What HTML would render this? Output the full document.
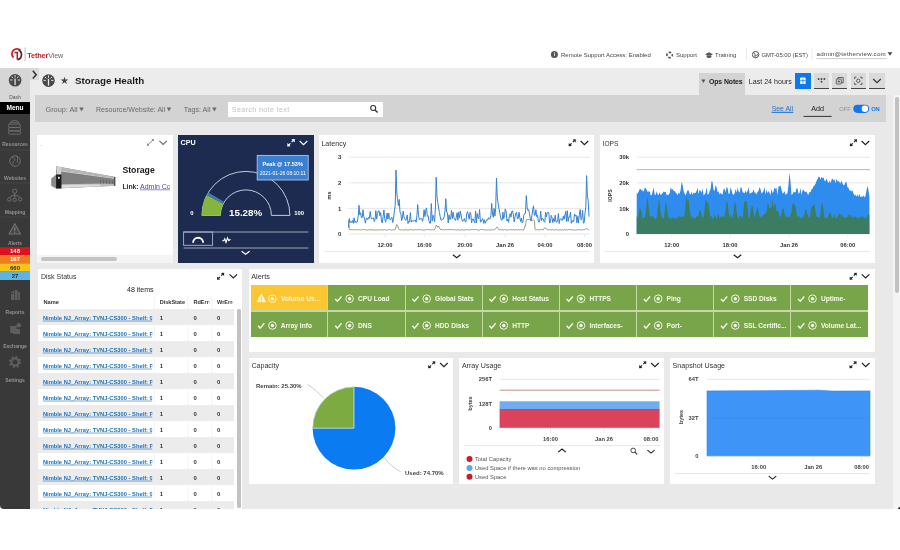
<!DOCTYPE html>
<html lang="en">
<head>
<meta charset="utf-8">
<title>Storage Health</title>
<style>
*{box-sizing:border-box;margin:0;padding:0}
html,body{width:900px;height:550px;overflow:hidden;background:#fff}
body{font-family:"Liberation Sans",sans-serif;color:#222;position:relative;font-size:7px;line-height:1}
.abs{position:absolute}
.t{position:absolute;white-space:nowrap;line-height:1}
#app{position:absolute;left:0;top:68px;width:900px;height:441px;background:#e9e9e9;border-bottom-left-radius:4px;overflow:hidden}
.w{position:absolute;background:#fff}
.wt{position:absolute;left:3px;top:4px;font-size:7.5px;color:#333;white-space:nowrap;letter-spacing:-0.1px}
svg{position:absolute;left:0;top:0;overflow:visible}
svg text{font-family:"Liberation Sans",sans-serif}
</style>
</head>
<body>
<!-- top header -->
<div id="hdr">
<svg width="900" height="68" viewBox="0 0 900 68">
  <!-- logo -->
  <path d="M13.4 57.6 A5 5 0 0 1 20.6 50.4" fill="none" stroke="#c5202d" stroke-width="1.8"/>
  <path d="M18.6 50.2 A4.6 4.9 0 0 1 17.4 59.6" fill="none" stroke="#651a22" stroke-width="1.7"/>
  <path d="M17.3 52 V59.6 M14.4 52.6 H18" stroke="#9c1f2b" stroke-width="1.5" fill="none"/>
  <line x1="25.1" y1="47.4" x2="25.1" y2="61.4" stroke="#a9afbd" stroke-width="0.8"/>
  <text x="27.2" y="57.8" font-size="7.3" font-weight="bold" fill="#bf202c" letter-spacing="-0.12">Tether<tspan fill="#6a6a6a" font-weight="normal" letter-spacing="-0.2">View</tspan></text>
  <!-- right items -->
  <circle cx="554.4" cy="54.4" r="3.5" fill="#555"/>
  <rect x="554.1" y="53.6" width="0.9" height="2.2" fill="#fff"/><rect x="554.1" y="52.2" width="0.9" height="0.9" fill="#fff"/>
  <text x="561" y="56.7" font-size="6" fill="#444">Remote Support Access: Enabled</text>
  <circle cx="669.6" cy="55" r="2.7" fill="none" stroke="#555" stroke-width="1.7" stroke-dasharray="2.6 1.64" stroke-dashoffset="1.3"/>
  <text x="676" y="57.2" font-size="6" fill="#444">Support</text>
  <path d="M705 54.2 l4 -1.9 l4 1.9 l-4 1.9 z M706.6 55.6 v1.6 q2.4 1.5 4.8 0 v-1.6" fill="#555" stroke="none"/>
  <text x="715" y="57.2" font-size="6" fill="#444">Training</text>
  <line x1="746.5" y1="48" x2="746.5" y2="60" stroke="#ddd" stroke-width="0.7"/>
  <line x1="812" y1="48" x2="812" y2="60" stroke="#e2e2e2" stroke-width="0.7"/>
  <circle cx="755.6" cy="54.6" r="3.2" fill="none" stroke="#444" stroke-width="0.9"/>
  <path d="M753.4 52.6 q1.8 0.4 1.6 1.8 q-0.2 1.4 1.4 1.2 q1.2 0 1.6 -1.6 M755.2 57.4 q0.4 -1.4 -0.8 -1.8" fill="none" stroke="#444" stroke-width="0.8"/>
  <text x="761.4" y="57" font-size="5.9" fill="#444">GMT-05:00 (EST)</text>
  <text x="816.6" y="56" font-size="6.2" fill="#444" letter-spacing="0.25">admin@tetherview.com</text>
  <path d="M887.6 52.2 h4.8 l-2.4 3.6 z" fill="#444"/>
  <line x1="816.4" y1="58.6" x2="886.4" y2="58.6" stroke="#b4b4b4" stroke-width="0.7"/>
</svg>
</div>
<div id="app">
<!-- coordinates inside #app are page y minus 68 -->
<div class="abs" style="left:0;top:0;width:900px;height:27px;background:#ececec"></div>
<div class="abs" style="left:892.8px;top:27px;width:7.2px;height:414px;background:#f4f4f4"></div>
<!-- sidebar -->
<div class="abs" id="sb" style="left:0;top:0;width:30px;height:441px;background:#393939"></div>
<div class="abs" style="left:0;top:0;width:30px;height:34px;background:#d6d6d6"></div>
<div class="abs" style="left:0;top:33.5px;width:30px;height:12px;background:#000"></div>
<div class="abs" style="left:30px;top:0;width:8.5px;height:12px;background:#dadada"></div>
<svg width="60" height="441" viewBox="0 68 60 441">
  <!-- expand chevron -->
  <path d="M32.8 70.8 l3.4 3.9 l-3.4 3.9" fill="none" stroke="#333" stroke-width="1.5"/>
  <!-- dash icon -->
  <g id="dashico"><circle cx="15.1" cy="80.2" r="6.3" fill="#484848"/><path d="M18.2 80.0 L19.6 80.0 M17.3 77.8 L18.3 76.8 M15.1 76.9 L15.1 75.5 M12.9 77.8 L11.9 76.8 M12.0 80.0 L10.6 80.0" stroke="#dedede" stroke-width="1" fill="none" stroke-linecap="round"/><path d="M15.1 79.0 V84.60000000000001" stroke="#dedede" stroke-width="1.3" fill="none" stroke-linecap="round"/></g>
  <text x="15" y="99" font-size="5" fill="#555" text-anchor="middle">Dash</text>
  <text x="15" y="109.6" font-size="6.6" font-weight="bold" fill="#fff" text-anchor="middle">Menu</text>
  <!-- resources -->
  <g fill="none" stroke="#707070" stroke-width="0.9">
    <path d="M9.2 124.2 l2.6 -3.4 h5.4 l2.6 3.4"/>
    <rect x="8.6" y="124.2" width="11.8" height="3.2" rx="0.8"/>
    <rect x="8.6" y="127.6" width="11.8" height="3.2" rx="0.8"/>
    <rect x="8.6" y="131" width="11.8" height="3.2" rx="0.8"/>
    <path d="M11 122.6 h7" stroke-width="0.7"/>
  </g>
  <text x="15" y="145.8" font-size="5" font-weight="bold" fill="#939393" text-anchor="middle">Resources</text>
  <line x1="0" y1="150" x2="30" y2="150" stroke="#484848" stroke-width="0.7"/>
  <!-- websites -->
  <circle cx="15" cy="161" r="5.3" fill="none" stroke="#6e6e6e" stroke-width="1"/>
  <path d="M11.5 158 q2 -1.5 3.2 0.5 q1 2 -1 3 q-1.5 1 -0.5 3 M16.5 156.5 q2 1.5 1 3.5 q-1 1.5 1 3" fill="none" stroke="#6e6e6e" stroke-width="1"/>
  <text x="15" y="180" font-size="5" font-weight="bold" fill="#939393" text-anchor="middle">Websites</text>
  <line x1="0" y1="183" x2="30" y2="183" stroke="#484848" stroke-width="0.7"/>
  <!-- mapping -->
  <g fill="none" stroke="#727272" stroke-width="0.9">
    <circle cx="14.7" cy="191.2" r="2.1"/><circle cx="9.2" cy="199.4" r="1.7"/><circle cx="14.7" cy="199.8" r="1.7"/><circle cx="20.2" cy="199.4" r="1.7"/>
    <path d="M14.7 193.3 v4.8 M14.7 195.2 q-4.6 0.4 -5.2 2.5 M14.7 195.2 q4.6 0.4 5.2 2.5"/>
  </g>
  <text x="15" y="214" font-size="5" font-weight="bold" fill="#939393" text-anchor="middle">Mapping</text>
  <line x1="0" y1="217" x2="30" y2="217" stroke="#484848" stroke-width="0.7"/>
  <!-- alerts -->
  <path d="M14.8 223.8 l5.7 10.2 h-11.4 z" fill="#454545" stroke="#757575" stroke-width="1.1" stroke-linejoin="round"/>
  <path d="M14.8 227.4 v3.4 M14.8 231.8 v1" stroke="#8a8a8a" stroke-width="1.1"/>
  <text x="15" y="244.5" font-size="5" font-weight="bold" fill="#939393" text-anchor="middle">Alerts</text>
  <rect x="0" y="247.2" width="30" height="7.8" fill="#d9141f"/>
  <rect x="0" y="255" width="30" height="8.3" fill="#f07a22"/>
  <rect x="0" y="263.3" width="30" height="8.4" fill="#f7c515"/>
  <rect x="0" y="271.7" width="30" height="8.3" fill="#5bb5e3"/>
  <text x="15" y="253.1" font-size="6" font-weight="bold" fill="#fff" text-anchor="middle">148</text>
  <text x="15" y="261.4" font-size="6" font-weight="bold" fill="#fff" text-anchor="middle">167</text>
  <text x="15" y="269.8" font-size="6" font-weight="bold" fill="#2a2a2a" text-anchor="middle">660</text>
  <text x="15" y="278.1" font-size="6" font-weight="bold" fill="#2a2a2a" text-anchor="middle">27</text>
  <!-- reports -->
  <g fill="#5e5e5e"><rect x="11" y="294" width="3" height="6"/><rect x="14.6" y="290" width="3" height="10"/><rect x="18.2" y="292" width="1.8" height="8"/><path d="M10.5 293 l3.5 -2.5 v3 z"/></g>
  <text x="15" y="314" font-size="5" font-weight="bold" fill="#939393" text-anchor="middle">Reports</text>
  <!-- exchange -->
  <g fill="#5e5e5e"><rect x="10.2" y="326" width="6.5" height="7" rx="0.6"/><rect x="13" y="329" width="7" height="5" rx="0.6"/><circle cx="18.8" cy="325.2" r="2.3"/></g>
  <text x="15" y="348" font-size="5" font-weight="bold" fill="#939393" text-anchor="middle">Exchange</text>
  <!-- settings -->
  <circle cx="15" cy="362" r="3.6" fill="none" stroke="#5e5e5e" stroke-width="2.2"/>
  <circle cx="15" cy="362" r="5.2" fill="none" stroke="#5e5e5e" stroke-width="1.8" stroke-dasharray="2 2.08"/>
  <text x="15" y="382" font-size="5" font-weight="bold" fill="#939393" text-anchor="middle">Settings</text>
</svg>
<!-- title bar + filter bar (page coords via svg viewBox) -->
<div class="abs" style="left:35px;top:27px;width:850.5px;height:27px;background:#d3d3d3"></div>
<div class="abs" style="left:699px;top:5px;width:46px;height:23px;background:#d3d3d3"></div>
<div class="abs" style="left:795px;top:5px;width:15.6px;height:16px;background:#0f78ee"></div>
<div class="abs" style="left:813.7px;top:5px;width:15.6px;height:16px;background:#dadada;border-bottom:1.2px solid #444"></div>
<div class="abs" style="left:831.9px;top:5px;width:15.6px;height:16px;background:#dadada;border-bottom:1.2px solid #444"></div>
<div class="abs" style="left:850.5px;top:5px;width:15.6px;height:16px;background:#dadada;border-bottom:1.2px solid #444"></div>
<div class="abs" style="left:869.2px;top:5px;width:15.6px;height:16px;background:#dadada;border-bottom:1.2px solid #444"></div>
<div class="abs" style="left:228px;top:33.5px;width:154.5px;height:15px;background:#fff"></div>
<div class="abs" style="left:895.2px;top:28.5px;width:3.8px;height:196px;background:#c1c1c1;border-radius:2px"></div>
<svg width="899" height="60" viewBox="0 68 899 60">
  <!-- title icon -->
  <circle cx="48.5" cy="80.6" r="6.3" fill="#484848"/><path d="M51.6 80.4 L53.0 80.4 M50.7 78.2 L51.7 77.2 M48.5 77.3 L48.5 75.9 M46.3 78.2 L45.3 77.2 M45.4 80.4 L44.0 80.4" stroke="#ececec" stroke-width="1" fill="none" stroke-linecap="round"/><path d="M48.5 79.39999999999999 V85.0" stroke="#ececec" stroke-width="1.3" fill="none" stroke-linecap="round"/>
  <text x="60.2" y="84.3" font-size="9.5" fill="#444">★</text>
  <text x="75" y="84.1" font-size="9.8" font-weight="bold" fill="#1c1c1c">Storage Health</text>
  <!-- filters -->
  <text x="45.5" y="112" font-size="7.3" fill="#6a6a6a">Group: All</text>
  <path d="M79.3 107.6 h4.4 l-2.2 3.8 z" fill="#6a6a6a"/>
  <text x="96" y="112" font-size="7.1" fill="#6a6a6a">Resource/Website: All</text>
  <path d="M166.8 107.6 h4.4 l-2.2 3.8 z" fill="#6a6a6a"/>
  <text x="183.8" y="112" font-size="7.2" fill="#6a6a6a">Tags: All</text>
  <path d="M212.2 107.6 h4.4 l-2.2 3.8 z" fill="#6a6a6a"/>
  <text x="231.8" y="111.6" font-size="7.2" fill="#c2c2c2" letter-spacing="0.34">Search note text</text>
  <circle cx="373.2" cy="108" r="2.5" fill="none" stroke="#333" stroke-width="1.1"/>
  <path d="M375 109.9 l2.6 2.7" stroke="#333" stroke-width="1.4"/>
  <!-- ops notes -->
  <path d="M701.4 79.6 h4 l-2 3.4 z" fill="#555"/>
  <text x="709" y="83.7" font-size="6.9" font-weight="bold" fill="#222" letter-spacing="-0.1">Ops Notes</text>
  <text x="748.8" y="83.7" font-size="7.1" fill="#2a2a2a">Last 24 hours</text>
  <!-- calendar icon -->
  <rect x="800.2" y="77.6" width="5.4" height="6.4" rx="0.6" fill="#fff"/>
  <path d="M800.2 80.6 h5.4 M802.9 78.5 v5" stroke="#0f78ee" stroke-width="0.7"/>
  <!-- dots -->
  <g fill="#444"><circle cx="818.6" cy="79" r="0.95"/><circle cx="821.5" cy="79" r="0.95"/><circle cx="824.4" cy="79" r="0.95"/><circle cx="821.5" cy="81.8" r="0.95"/></g>
  <!-- copy -->
  <g fill="none" stroke="#444" stroke-width="0.8"><rect x="836.3" y="79" width="5" height="5" rx="0.6"/><path d="M838 78.9 v-1.4 h5.2 v5.2 h-1.8"/><path d="M837.6 81.5 h2.4 M838.8 80.3 v2.4"/></g>
  <!-- focus -->
  <g fill="none" stroke="#444" stroke-width="0.8"><path d="M854.6 79 v-1.8 h1.8 M860.2 77.2 h1.8 v1.8 M862 82.6 v1.8 h-1.8 M856.4 84.4 h-1.8 v-1.8"/><circle cx="858.3" cy="80.8" r="1.7"/></g>
  <!-- chevron -->
  <path d="M873.2 79 l3.8 3.6 l3.8 -3.6" fill="none" stroke="#333" stroke-width="1.2"/>
  <!-- see all / add / toggle -->
  <text x="771.7" y="111" font-size="6.9" fill="#1a6fd6" text-decoration="underline">See All</text>
  <line x1="771.7" y1="112.2" x2="793.4" y2="112.2" stroke="#1a6fd6" stroke-width="0.7"/>
  <text x="811.3" y="111" font-size="7.2" fill="#222">Add</text>
  <line x1="803.6" y1="116.4" x2="831.6" y2="116.4" stroke="#333" stroke-width="1"/>
  <text x="839.3" y="110.8" font-size="5.7" fill="#929292">OFF</text>
  <rect x="853.3" y="104.7" width="15.8" height="8.2" rx="4.1" fill="#0f78ee"/>
  <circle cx="864.9" cy="108.8" r="3.2" fill="#fff"/>
  <text x="871.3" y="110.8" font-size="5.8" font-weight="bold" fill="#1a7af0" letter-spacing="-0.2">ON</text>
</svg>
<!-- ===== row 1 : storage image widget + CPU gauge ===== -->
<div class="w" style="left:37px;top:67px;width:135.8px;height:128.4px"></div>
<div class="abs" style="left:37px;top:187px;width:135.8px;height:8.4px;background:#f4f4f4"></div>
<div class="abs" style="left:40.6px;top:189.4px;width:76.5px;height:3.6px;background:#c4c4c4;border-radius:2px"></div>
<div class="w" style="left:178px;top:67px;width:136px;height:128px;background:#1c2b4f"></div>
<svg width="320" height="210" viewBox="0 68 320 210">
  <defs>
    <linearGradient id="srvg" x1="0" y1="0" x2="0" y2="1"><stop offset="0" stop-color="#b8b8b8"/><stop offset="0.5" stop-color="#8e8e8e"/><stop offset="1" stop-color="#a4a4a4"/></linearGradient>
  </defs>
  <text x="40.6" y="146" font-size="5" fill="#555">.</text>
  <!-- expand + chevron -->
  <path d="M147.8 144.9 L153 139.9" stroke="#7a7a7a" stroke-width="0.9" fill="none"/>
  <path d="M153.9 139.1 l-2.5 0.3 l2.2 2.2 z M146.9 145.7 l2.5 -0.3 l-2.2 -2.2 z" fill="#7a7a7a"/>
  <path d="M159.4 140.9 l3.7 3.6 l3.7 -3.6" fill="none" stroke="#666" stroke-width="1.1"/>
  <!-- rack server image -->
  <path d="M56.1 166.2 L115.3 176.9 L115.3 185.8 L56.1 188.6 Z" fill="#7f7f7f"/>
  <path d="M56.1 166.2 L115.3 176.9 L115.3 178.3 L61.2 170.4 L56.1 169.8 Z" fill="#b9b9b9"/>
  <path d="M61.2 170.4 L115.3 178.3 L115.3 179 L61.2 171.5 Z" fill="#d4d4d4"/>
  <path d="M61.4 184.2 L104 183.6 L115.3 183.9 L115.3 185.8 L61.4 188.2 Z" fill="#bdbdbd"/>
  <path d="M61.4 185 L100 184.4 L100 186.3 L61.4 187.7 Z" fill="#dcdcdc"/>
  <path d="M51.2 178.4 L56.1 174.4 L56.1 188.4 L51.2 185.8 Z" fill="#8a8a8a"/>
  <path d="M56.8 166.6 L61.2 167.3 L61.2 174.6 L56.8 174.6 Z" fill="#d2d2d2"/>
  <rect x="56.1" y="174.6" width="5.3" height="13.9" fill="#1b1b1b"/>
  <rect x="58" y="176.8" width="1.7" height="2" fill="#f0f0f0"/>
  <path d="M100.5 179.8 v3.8 M103.5 180.1 v3.5 M106.5 180.4 v3.2 M109.5 180.7 v3 M112.5 181 v2.8" stroke="#5f5f5f" stroke-width="0.8" fill="none"/>
  <path d="M114.6 177 v8.8" stroke="#4a4a4a" stroke-width="1.2" fill="none"/>
  <text x="122.4" y="173.4" font-size="8.7" font-weight="bold" fill="#1a1a1a">Storage</text>
  <text x="122.4" y="188.6" font-size="6.8" font-weight="bold" fill="#333">Link:</text>
  <svg x="139" y="180" width="30.8" height="12" viewBox="139 180 30.8 12" overflow="hidden" style="overflow:hidden;position:static">
    <text x="140" y="188.6" font-size="7" fill="#5b3f8c">Admin Console</text>
    <line x1="140" y1="189.8" x2="175" y2="189.8" stroke="#5b3f8c" stroke-width="0.6"/>
  </svg>
  <!-- CPU -->
  <text x="180.6" y="145.4" font-size="7.2" font-weight="bold" fill="#fff">CPU</text>
  <g fill="#fff" stroke="none"><path d="M294.8 139.1 l-3.4 0.2 l3.2 3.2 z"/><path d="M287.2 146.5 l3.4 -0.2 l-3.2 -3.2 z"/></g><path d="M291.6 142.2 L293.4 140.4 M290.4 143.4 L288.6 145.2" stroke="#fff" stroke-width="1.2" fill="none"/>
  <path d="M299.7 141 l3.8 3.6 l3.8 -3.6" fill="none" stroke="#fff" stroke-width="1.2"/>
  <!-- gauge -->
  <path d="M201.9 215.4 A44 44 0 0 1 289.9 215.4 L271.4 215.4 A25.5 25.5 0 0 0 220.4 215.4 Z" fill="none" stroke="#c3cadb" stroke-width="1"/>
  <path d="M201.9 215.4 A44 44 0 0 1 206.87 195.09 L223.28 203.63 A25.5 25.5 0 0 0 220.4 215.4 Z" fill="#86b53e"/>
  <path d="M206.87 195.09 A44 44 0 0 1 208.4 192.38 L224.17 202.06 A25.5 25.5 0 0 0 223.28 203.63 Z" fill="#3e7ac0"/>
  <text x="190.2" y="215" font-size="5.9" font-weight="bold" fill="#fff">0</text>
  <text x="294.3" y="215" font-size="5.9" font-weight="bold" fill="#fff">100</text>
  <text x="245.6" y="215.8" font-size="9.75" font-weight="bold" fill="#fff" text-anchor="middle">15.28%</text>
  <!-- tooltip -->
  <rect x="257.2" y="155.4" width="51" height="24.6" fill="#3a7fd0" stroke="#a9c8ee" stroke-width="0.9"/>
  <text x="282.7" y="165.7" font-size="5.55" font-weight="bold" fill="#fff" text-anchor="middle">Peak @ 17.53%</text>
  <text x="282.7" y="174.8" font-size="5" fill="#fff" text-anchor="middle">2021-01-26 08:10:11</text>
  <!-- tabs -->
  <path d="M183.6 232 H308.3 M183.6 248 H308.3" stroke="#aeb6c8" stroke-width="0.9" fill="none"/>
  <rect x="183.6" y="232" width="29" height="13.3" fill="none" stroke="#aeb6c8" stroke-width="0.9"/>
  <path d="M193.1 242.7 A5 5 0 0 1 203.1 242.7" fill="none" stroke="#fff" stroke-width="1.9"/>
  <path d="M222.2 240.8 l1.6 0 l1 -2 l1.2 3.6 l1.5 -4.6 l1.2 2.8 l1.8 -1.4" fill="none" stroke="#fff" stroke-width="1.1"/>
  <path d="M241.6 251.2 l4 3.1 l4 -3.1" fill="none" stroke="#fff" stroke-width="1.3"/>
</svg>
<!-- ===== Latency widget ===== -->
<div class="w" style="left:319px;top:67px;width:275.3px;height:128.4px"></div>
<div class="w" style="left:599.6px;top:67px;width:275.4px;height:128.4px"></div>
<svg width="899" height="210" viewBox="0 68 899 210">
<text x="321.4" y="146" font-size="7.1" fill="#333">Latency</text>
<g fill="#222" stroke="none"><path d="M575.8 139.3 l-3.2 0.2 l3 3 z"/><path d="M568.6 146.3 l3.2 -0.2 l-3 -3 z"/></g><path d="M572.8 142.2 L574.6 140.4 M571.6 143.4 L569.8 145.2" stroke="#222" stroke-width="1.2" fill="none"/>
<path d="M580.6 141 l3.8 3.6 l3.8 -3.6" fill="none" stroke="#222" stroke-width="1.2"/>
<line x1="348.5" y1="234" x2="590" y2="234" stroke="#dcdcdc" stroke-width="0.7"/>
<text x="339.6" y="236.2" font-size="6" font-weight="bold" fill="#333" text-anchor="middle">0</text>
<line x1="348.5" y1="208.4" x2="590" y2="208.4" stroke="#dcdcdc" stroke-width="0.7"/>
<text x="339.6" y="210.6" font-size="6" font-weight="bold" fill="#333" text-anchor="middle">1</text>
<line x1="348.5" y1="182.8" x2="590" y2="182.8" stroke="#dcdcdc" stroke-width="0.7"/>
<text x="339.6" y="185" font-size="6" font-weight="bold" fill="#333" text-anchor="middle">2</text>
<line x1="348.5" y1="157.2" x2="590" y2="157.2" stroke="#dcdcdc" stroke-width="0.7"/>
<text x="339.6" y="159.4" font-size="6" font-weight="bold" fill="#333" text-anchor="middle">3</text>
<text transform="translate(330.8 195.5) rotate(-90)" font-size="5.4" font-weight="bold" fill="#333" text-anchor="middle">ms</text>
<polyline points="348.5,219.9 349.3,228.9 350.1,230.1 350.9,229.4 351.7,229.7 352.5,229.9 353.3,229.5 354.1,230 354.9,229.4 355.7,229.7 356.5,229.9 357.3,229.6 358.2,229.8 359,230 359.8,229.6 360.6,230.1 361.4,229.5 362.2,230 363,229.7 363.8,229.4 364.6,229.7 365.4,229.7 366.2,229.9 367,230.2 367.8,230.1 368.6,230 369.4,229.7 370.2,229.8 371,229.8 371.8,229.5 372.6,230.1 373.4,230 374.2,229.7 375,230.1 375.8,230.2 376.7,229.9 377.5,230.1 378.3,229.9 379.1,230 379.9,229.7 380.7,229.7 381.5,230 382.3,229.7 383.1,229.8 383.9,230.1 384.7,229.4 385.5,230 386.3,230 387.1,230.1 387.9,229.7 388.7,229.5 389.5,229.6 390.3,229.9 391.1,230 391.9,230.2 392.7,229.7 393.5,229.7 394.3,229.9 395.2,229.7 396,227.1 396.8,224.5 397.6,225.6 398.4,228.1 399.2,229.5 400,230.1 400.8,229.8 401.6,229.8 402.4,230 403.2,230.1 404,229.6 404.8,230.2 405.6,229.7 406.4,229.4 407.2,230.1 408,230 408.8,229.7 409.6,229.8 410.4,229.7 411.2,229.5 412,230 412.8,229.9 413.7,229.9 414.5,230.1 415.3,229.5 416.1,229.6 416.9,229.6 417.7,230.2 418.5,229.5 419.3,229.6 420.1,229.8 420.9,229.6 421.7,229.8 422.5,230 423.3,230.1 424.1,230 424.9,230.1 425.7,229.9 426.5,229.6 427.3,229.6 428.1,229.5 428.9,229.6 429.7,230 430.5,229.7 431.3,229.8 432.2,229.6 433,229.8 433.8,230 434.6,229.7 435.4,227.6 436.2,225.2 437,225.7 437.8,227.4 438.6,226 439.4,227.7 440.2,229.5 441,229.4 441.8,229.6 442.6,229.9 443.4,229.5 444.2,229.9 445,230 445.8,229.5 446.6,229.7 447.4,229.6 448.2,229.6 449,229.4 449.8,229.8 450.7,229.5 451.5,229.6 452.3,229.5 453.1,229.8 453.9,229.6 454.7,229.7 455.5,229.9 456.3,230 457.1,229.7 457.9,230.1 458.7,229.5 459.5,230 460.3,230.1 461.1,230.1 461.9,229.4 462.7,229.9 463.5,230.1 464.3,230.1 465.1,230.1 465.9,229.6 466.7,229.7 467.5,229.6 468.3,229.6 469.2,230.1 470,229.7 470.8,229.9 471.6,229.5 472.4,229.5 473.2,229.5 474,230.1 474.8,229.5 475.6,229.5 476.4,229.4 477.2,230.1 478,230 478.8,230.1 479.6,230.1 480.4,229.5 481.2,229.5 482,229.7 482.8,229.5 483.6,229.7 484.4,229.9 485.2,230.1 486,230.1 486.8,229.6 487.7,230 488.5,229.9 489.3,229.8 490.1,230.1 490.9,230 491.7,229.9 492.5,229.6 493.3,229.9 494.1,229.9 494.9,229.4 495.7,228.8 496.5,227.3 497.3,226.9 498.1,228.4 498.9,229.8 499.7,229.8 500.5,229.6 501.3,229.9 502.1,229.6 502.9,229.7 503.7,230 504.5,229.5 505.3,230.1 506.2,229.5 507,230 507.8,230.2 508.6,230 509.4,229.6 510.2,229.4 511,230.2 511.8,229.8 512.6,229.8 513.4,229.5 514.2,230 515,229.8 515.8,229.9 516.6,229.5 517.4,230 518.2,229.4 519,229.9 519.8,230 520.6,229.6 521.4,229.8 522.2,230.1 523,229.7 523.8,230.1 524.7,226.3 525.5,226.3 526.3,219.6 527.1,219.3 527.9,219.5 528.7,219.6 529.5,219.4 530.3,219.6 531.1,219.7 531.9,220 532.7,220.2 533.5,219.7 534.3,220.5 535.1,229.5 535.9,229.8 536.7,229.9 537.5,229.5 538.3,230 539.1,229.8 539.9,229.8 540.7,229.6 541.5,229.6 542.3,229.7 543.2,229.9 544,228.7 544.8,227.5 545.6,228 546.4,229.2 547.2,229.6 548,230 548.8,229.8 549.6,229.6 550.4,229.7 551.2,230.1 552,229.8 552.8,229.5 553.6,230 554.4,230 555.2,229.9 556,229.6 556.8,229.5 557.6,230 558.4,230 559.2,230 560,229.9 560.8,229.8 561.7,230 562.5,229.9 563.3,230 564.1,229.4 564.9,229.6 565.7,230.1 566.5,229.4 567.3,230.1 568.1,229.9 568.9,229.4 569.7,229.5 570.5,229.6 571.3,229.8 572.1,230 572.9,229.7 573.7,230.1 574.5,230 575.3,229.9 576.1,230.1 576.9,229.9 577.7,229.6 578.5,229.6 579.3,229.8 580.2,229.7 581,229.8 581.8,230.1 582.6,229.7 583.4,229.8 584.2,229.6 585,229.5 585.8,229 586.6,228.4 587.4,229.2 588.2,229.8 589,230" fill="none" stroke="#7f9069" stroke-width="0.85" stroke-linejoin="round"/>
<polyline points="348.5,227.6 349.3,218.6 350.1,222.6 350.9,221.3 351.7,222.4 352.5,220.5 353.3,223.3 354.1,217.8 354.9,222.6 355.7,221.1 356.5,222.4 357.3,221.9 358.2,216.4 359,205.3 359.8,214.9 360.6,212.7 361.4,217.6 362.2,217.7 363,209.7 363.8,216.6 364.6,218.7 365.4,223.2 366.2,218.4 367,218 367.8,219.6 368.6,217.3 369.4,218.3 370.2,211.5 371,217.3 371.8,219 372.6,218.2 373.4,217.9 374.2,221.6 375,220 375.8,210.6 376.7,219 377.5,213.5 378.3,211 379.1,210.7 379.9,215.9 380.7,212.6 381.5,221.1 382.3,223 383.1,216.5 383.9,210 384.7,218.5 385.5,222.2 386.3,219.6 387.1,213 387.9,219.1 388.7,213.2 389.5,218.6 390.3,220 391.1,218.7 391.9,217.3 392.7,222.5 393.5,219.2 394.3,211.8 395.2,205.8 396,170 396.8,193 397.6,199.7 398.4,205.8 399.2,199.4 400,212.5 400.8,212.8 401.6,220.8 402.4,218.1 403.2,211 404,217.1 404.8,218.8 405.6,220.5 406.4,218.8 407.2,214.9 408,223.5 408.8,221.1 409.6,221.8 410.4,212.6 411.2,222.1 412,220.6 412.8,221.2 413.7,220.9 414.5,220.8 415.3,219.9 416.1,222.2 416.9,215.7 417.7,204.6 418.5,214.5 419.3,219.8 420.1,219 420.9,218.6 421.7,218.4 422.5,221.3 423.3,217.7 424.1,209.7 424.9,216.6 425.7,210.8 426.5,207.9 427.3,216.3 428.1,215.6 428.9,220.6 429.7,223.2 430.5,223.1 431.3,203.6 432.2,221.2 433,215.2 433.8,216.9 434.6,221.9 435.4,208 436.2,177.2 437,197 437.8,202.7 438.6,208 439.4,212.4 440.2,216.8 441,220.2 441.8,220.1 442.6,219 443.4,219 444.2,216.2 445,211.3 445.8,198.7 446.6,212.2 447.4,212.5 448.2,222.9 449,214.9 449.8,219.7 450.7,219 451.5,210.3 452.3,218.5 453.1,212.2 453.9,217.6 454.7,219.2 455.5,220.5 456.3,217.2 457.1,212.7 457.9,220.3 458.7,212.3 459.5,218.1 460.3,211 461.1,215 461.9,219.7 462.7,221.5 463.5,219.6 464.3,218.6 465.1,221.5 465.9,222.1 466.7,213.5 467.5,211.7 468.3,215 469.2,219.3 470,212.3 470.8,213.9 471.6,222.8 472.4,219 473.2,218.9 474,221 474.8,222.8 475.6,210.9 476.4,222.9 477.2,213.5 478,218.4 478.8,218.4 479.6,209.5 480.4,222.1 481.2,221.6 482,219.3 482.8,218.7 483.6,223.3 484.4,219.7 485.2,223.3 486,221.1 486.8,219.7 487.7,220.1 488.5,217.7 489.3,218.9 490.1,218.9 490.9,215.8 491.7,203.3 492.5,214 493.3,217.4 494.1,208.4 494.9,216.1 495.7,208.3 496.5,178.2 497.3,197.5 498.1,203.1 498.9,208.3 499.7,212.6 500.5,216.9 501.3,220 502.1,220.2 502.9,212.1 503.7,218.8 504.5,215.4 505.3,208.9 506.2,212 507,221.1 507.8,219 508.6,222.2 509.4,215.5 510.2,213.7 511,217.2 511.8,211.3 512.6,210.9 513.4,215 514.2,222 515,216.8 515.8,213.1 516.6,212.5 517.4,218.9 518.2,218.4 519,212.2 519.8,217.6 520.6,221.6 521.4,218.2 522.2,222.9 523,221.7 523.8,215.1 524.7,213.4 525.5,213.5 526.3,195.6 527.1,207.1 527.9,210.4 528.7,209.7 529.5,213.7 530.3,218.5 531.1,221.1 531.9,215.7 532.7,210 533.5,205.8 534.3,215.1 535.1,215.4 535.9,209.7 536.7,216.6 537.5,215.2 538.3,221 539.1,222.3 539.9,220.1 540.7,211.1 541.5,220.6 542.3,218 543.2,219 544,221.5 544.8,222.3 545.6,212.2 546.4,216.9 547.2,212.9 548,212.2 548.8,212.7 549.6,223 550.4,222.4 551.2,215.3 552,217.4 552.8,222.6 553.6,218.7 554.4,221.5 555.2,215.1 556,222.1 556.8,221.9 557.6,221.4 558.4,213.5 559.2,223.5 560,219.3 560.8,218.5 561.7,220.2 562.5,220.3 563.3,216.2 564.1,219.3 564.9,214.8 565.7,211.4 566.5,221.5 567.3,210.7 568.1,221.4 568.9,216.9 569.7,217.1 570.5,212 571.3,223.3 572.1,220.4 572.9,221.9 573.7,221.3 574.5,213.9 575.3,216.1 576.1,215 576.9,222.8 577.7,216.4 578.5,223.1 579.3,214.5 580.2,209.5 581,219.8 581.8,218.5 582.6,210.2 583.4,223.2 584.2,222.7 585,212.9 585.8,207.5 586.6,175.6 587.4,196.1 588.2,200.7 589,216.6" fill="none" stroke="#3681d0" stroke-width="1" stroke-linejoin="round"/>
<line x1="385" y1="234" x2="385" y2="237" stroke="#ddd" stroke-width="0.6"/>
<text x="385" y="247.2" font-size="5.8" font-weight="bold" fill="#333" text-anchor="middle">12:00</text>
<line x1="424.3" y1="234" x2="424.3" y2="237" stroke="#ddd" stroke-width="0.6"/>
<text x="424.3" y="247.2" font-size="5.8" font-weight="bold" fill="#333" text-anchor="middle">16:00</text>
<line x1="465" y1="234" x2="465" y2="237" stroke="#ddd" stroke-width="0.6"/>
<text x="465" y="247.2" font-size="5.8" font-weight="bold" fill="#333" text-anchor="middle">20:00</text>
<line x1="505" y1="234" x2="505" y2="237" stroke="#ddd" stroke-width="0.6"/>
<text x="505" y="247.2" font-size="5.8" font-weight="bold" fill="#333" text-anchor="middle">Jan 26</text>
<line x1="545" y1="234" x2="545" y2="237" stroke="#ddd" stroke-width="0.6"/>
<text x="545" y="247.2" font-size="5.8" font-weight="bold" fill="#333" text-anchor="middle">04:00</text>
<line x1="584.5" y1="234" x2="584.5" y2="237" stroke="#ddd" stroke-width="0.6"/>
<text x="584.5" y="247.2" font-size="5.8" font-weight="bold" fill="#333" text-anchor="middle">08:00</text>
<line x1="324" y1="251.6" x2="590" y2="251.6" stroke="#ddd" stroke-width="0.7"/>
<path d="M452.9 254.8 l3.8 3 l3.8 -3" fill="none" stroke="#222" stroke-width="1.2"/>
<!-- ===== IOPS widget ===== -->
<text x="602.6" y="146" font-size="6.6" fill="#333">IOPS</text>
<g fill="#222" stroke="none"><path d="M857 139.3 l-3.2 0.2 l3 3 z"/><path d="M849.8 146.3 l3.2 -0.2 l-3 -3 z"/></g><path d="M854 142.2 L855.8 140.4 M852.8 143.4 L851 145.2" stroke="#222" stroke-width="1.2" fill="none"/>
<path d="M861.6 141 l3.8 3.6 l3.8 -3.6" fill="none" stroke="#222" stroke-width="1.2"/>
<line x1="636.7" y1="234" x2="870" y2="234" stroke="#dcdcdc" stroke-width="0.7"/>
<text x="629" y="236.2" font-size="5.9" font-weight="bold" fill="#333" text-anchor="end">0</text>
<line x1="636.7" y1="208.4" x2="870" y2="208.4" stroke="#dcdcdc" stroke-width="0.7"/>
<text x="629" y="210.6" font-size="5.9" font-weight="bold" fill="#333" text-anchor="end">10k</text>
<line x1="636.7" y1="182.8" x2="870" y2="182.8" stroke="#dcdcdc" stroke-width="0.7"/>
<text x="629" y="185" font-size="5.9" font-weight="bold" fill="#333" text-anchor="end">20k</text>
<line x1="636.7" y1="157.2" x2="870" y2="157.2" stroke="#dcdcdc" stroke-width="0.7"/>
<text x="629" y="159.4" font-size="5.9" font-weight="bold" fill="#333" text-anchor="end">30k</text>
<text transform="translate(612.2 195.5) rotate(-90)" font-size="5.2" font-weight="bold" fill="#333" text-anchor="middle">IOPS</text>
<path d="M636.7,234 L636.7,193.5 L637.7,193.3 L638.7,191.4 L639.7,189.1 L640.7,189.1 L641.7,190.6 L642.7,190.6 L643.7,191.7 L644.7,187.8 L645.7,188.3 L646.7,189.8 L647.7,192.1 L648.7,191.2 L649.7,191.4 L650.7,195.3 L651.7,195.2 L652.7,191 L653.7,187.8 L654.7,194.7 L655.7,195.1 L656.7,191.1 L657.7,194.6 L658.7,195.1 L659.7,192 L660.7,195.2 L661.7,193.9 L662.7,193 L663.7,191.4 L664.7,192.2 L665.7,191.5 L666.7,195.4 L667.7,194.4 L668.7,194.8 L669.7,193 L670.7,187.3 L671.7,189.5 L672.7,188.9 L673.7,191.1 L674.7,190.9 L675.6,192.4 L676.6,193.4 L677.6,195.3 L678.6,192.2 L679.6,194 L680.6,190.1 L681.6,181.7 L682.6,184.8 L683.6,191.1 L684.6,193.6 L685.6,195.5 L686.6,192.4 L687.6,190.3 L688.6,190.6 L689.6,193.6 L690.6,194.7 L691.6,191.5 L692.6,195 L693.6,192.3 L694.6,193.5 L695.6,192.7 L696.6,191.1 L697.6,187.5 L698.6,194.2 L699.6,189.4 L700.6,190.9 L701.6,192.7 L702.6,188.3 L703.6,195.6 L704.6,194.3 L705.6,192.8 L706.6,187.3 L707.6,195 L708.6,193.9 L709.6,191.2 L710.6,188.8 L711.6,180.8 L712.6,182.3 L713.6,190 L714.6,191.1 L715.6,184.9 L716.6,187.4 L717.6,192.2 L718.6,191.2 L719.6,194.6 L720.6,192.7 L721.6,194.2 L722.6,194.6 L723.6,188.9 L724.6,188.7 L725.6,192.2 L726.6,187 L727.6,188.1 L728.6,194 L729.6,193.4 L730.6,187.2 L731.6,190.6 L732.6,194 L733.6,195 L734.6,193.2 L735.6,189.1 L736.6,192.7 L737.6,187.6 L738.6,191.4 L739.6,192.7 L740.6,187.6 L741.6,187.4 L742.6,192.6 L743.6,192.5 L744.6,193.3 L745.6,190.6 L746.6,193.1 L747.6,190.7 L748.6,187.2 L749.6,193.5 L750.6,193.2 L751.6,192.4 L752.6,192.2 L753.5,189.1 L754.5,192.4 L755.5,192.8 L756.5,194.4 L757.5,191.8 L758.5,191.3 L759.5,187 L760.5,189.3 L761.5,193.4 L762.5,192.6 L763.5,191 L764.5,187 L765.5,194.4 L766.5,189.8 L767.5,193.1 L768.5,191 L769.5,192.8 L770.5,194.9 L771.5,188.7 L772.5,193.2 L773.5,191.5 L774.5,187.6 L775.5,189 L776.5,187.8 L777.5,195.3 L778.5,186.5 L779.5,186.3 L780.5,185.4 L781.5,189.5 L782.5,193.6 L783.5,192.9 L784.5,191 L785.5,195.1 L786.5,193.9 L787.5,192.9 L788.5,184.7 L789.5,172.6 L790.5,181.5 L791.5,195.2 L792.5,193.9 L793.5,192.2 L794.5,191.9 L795.5,192.5 L796.5,188.3 L797.5,188.2 L798.5,193.7 L799.5,193 L800.5,187.9 L801.5,195.2 L802.5,190.2 L803.5,189.8 L804.5,191.4 L805.5,191.9 L806.5,191.3 L807.5,193.9 L808.5,194.7 L809.5,191.7 L810.5,192.3 L811.5,189.2 L812.5,189 L813.5,186.1 L814.5,185.5 L815.5,183.7 L816.5,181.1 L817.5,179.2 L818.5,176.4 L819.5,177.1 L820.5,179.6 L821.5,177.1 L822.5,177.9 L823.5,177.6 L824.5,180.8 L825.5,181.3 L826.5,178.4 L827.5,181.2 L828.5,182.9 L829.5,180.4 L830.5,183.3 L831.4,180 L832.4,178.6 L833.4,180.6 L834.4,179 L835.4,183.3 L836.4,179.1 L837.4,181.2 L838.4,181 L839.4,182 L840.4,183.6 L841.4,180.6 L842.4,183.3 L843.4,185.3 L844.4,185.1 L845.4,182.4 L846.4,181.6 L847.4,187.2 L848.4,187.4 L849.4,190.6 L850.4,190.2 L851.4,191.6 L852.4,190.3 L853.4,193.3 L854.4,195.4 L855.4,194.4 L856.4,196.8 L857.4,194.2 L858.4,197.1 L859.4,193.8 L860.4,196.9 L861.4,196.4 L862.4,196.9 L863.4,195.2 L864.4,197.3 L865.4,196.2 L866.4,191.1 L867.4,186.1 L868.4,189.5 L869.4,196.8 L869.4,234 Z" fill="#2f8cef"/>
<path d="M636.7,234 L636.7,216.3 L637.7,218.6 L638.7,213.6 L639.7,207 L640.7,209.4 L641.7,212.5 L642.7,219.1 L643.7,217.6 L644.7,217.7 L645.7,212.6 L646.7,202 L647.7,196.2 L648.7,207.7 L649.7,216 L650.7,216.8 L651.7,216.2 L652.7,215.8 L653.7,217.4 L654.7,218.7 L655.7,218.5 L656.7,218.2 L657.7,208.7 L658.7,200.1 L659.7,202.5 L660.7,213.2 L661.7,216.2 L662.7,218.6 L663.7,218.4 L664.7,211 L665.7,201.8 L666.7,205.1 L667.7,212.9 L668.7,218.9 L669.7,217.3 L670.7,219.1 L671.7,218.6 L672.7,218 L673.7,217 L674.7,219.1 L675.6,219.1 L676.6,218.2 L677.6,216.9 L678.6,216.7 L679.6,216.4 L680.6,216.5 L681.6,217.4 L682.6,216.1 L683.6,216.9 L684.6,215.1 L685.6,203.5 L686.6,195.7 L687.6,201.5 L688.6,199.2 L689.6,208.4 L690.6,216.1 L691.6,217.4 L692.6,216.6 L693.6,218.3 L694.6,218.5 L695.6,218.2 L696.6,215.9 L697.6,217 L698.6,215.1 L699.6,209.8 L700.6,210.9 L701.6,214.5 L702.6,217.7 L703.6,217 L704.6,209.1 L705.6,199.5 L706.6,201.1 L707.6,202.6 L708.6,205.1 L709.6,212.7 L710.6,217.2 L711.6,216.1 L712.6,218.2 L713.6,218.9 L714.6,214.6 L715.6,216.7 L716.6,218.7 L717.6,216.6 L718.6,213.2 L719.6,218.3 L720.6,216.6 L721.6,216.6 L722.6,216.2 L723.6,217.5 L724.6,216.2 L725.6,210.1 L726.6,200.8 L727.6,202.6 L728.6,211.1 L729.6,218.6 L730.6,213.7 L731.6,217 L732.6,218.8 L733.6,211.3 L734.6,202 L735.6,203.5 L736.6,211.3 L737.6,216.9 L738.6,218.2 L739.6,216.4 L740.6,215.3 L741.6,216.7 L742.6,219.1 L743.6,207.5 L744.6,201 L745.6,201.1 L746.6,201 L747.6,208.3 L748.6,217.8 L749.6,218.1 L750.6,210 L751.6,205.4 L752.6,206.1 L753.5,212.1 L754.5,217.2 L755.5,215 L756.5,210.6 L757.5,206.1 L758.5,211 L759.5,217.2 L760.5,217.2 L761.5,217.1 L762.5,215.6 L763.5,214.9 L764.5,213.9 L765.5,212.9 L766.5,211.9 L767.5,204 L768.5,203.8 L769.5,208.5 L770.5,208 L771.5,206.2 L772.5,198.4 L773.5,206.9 L774.5,205.5 L775.5,203 L776.5,211 L777.5,211 L778.5,211 L779.5,216.1 L780.5,217.2 L781.5,213.7 L782.5,208.5 L783.5,208.4 L784.5,213.4 L785.5,216.7 L786.5,217 L787.5,216.8 L788.5,216.3 L789.5,218.3 L790.5,214.4 L791.5,211.7 L792.5,203.8 L793.5,203.2 L794.5,205.1 L795.5,206.3 L796.5,213.4 L797.5,217.8 L798.5,215.8 L799.5,217 L800.5,218.5 L801.5,216.9 L802.5,218.1 L803.5,217 L804.5,213.5 L805.5,209.7 L806.5,209.6 L807.5,214.4 L808.5,216.7 L809.5,218.6 L810.5,213.6 L811.5,206.7 L812.5,206.4 L813.5,204.9 L814.5,204.2 L815.5,211 L816.5,217 L817.5,216.5 L818.5,217.2 L819.5,217.9 L820.5,212.9 L821.5,204.2 L822.5,202.8 L823.5,210.4 L824.5,216.9 L825.5,218.6 L826.5,217.7 L827.5,217.5 L828.5,214.7 L829.5,212.8 L830.5,212.3 L831.4,216 L832.4,217.6 L833.4,218.7 L834.4,213.6 L835.4,217.7 L836.4,218.2 L837.4,216.6 L838.4,215.3 L839.4,213.6 L840.4,213.4 L841.4,216.7 L842.4,214.7 L843.4,217.3 L844.4,218.1 L845.4,216.9 L846.4,218.1 L847.4,217.1 L848.4,214.3 L849.4,214.8 L850.4,217.2 L851.4,214.8 L852.4,216.7 L853.4,218.1 L854.4,216.7 L855.4,216.4 L856.4,217 L857.4,218.5 L858.4,218.4 L859.4,218 L860.4,216.4 L861.4,216.4 L862.4,216.6 L863.4,216.6 L864.4,218.6 L865.4,217.1 L866.4,218.8 L867.4,215.5 L868.4,213.7 L869.4,214.6 L869.4,234 Z" fill="#3b7d63"/>
<line x1="636.7" y1="169.6" x2="870" y2="169.6" stroke="#d4a2a2" stroke-width="0.9"/>
<line x1="671.7" y1="234" x2="671.7" y2="237" stroke="#ddd" stroke-width="0.6"/>
<text x="671.7" y="247.2" font-size="5.8" font-weight="bold" fill="#333" text-anchor="middle">12:00</text>
<line x1="730" y1="234" x2="730" y2="237" stroke="#ddd" stroke-width="0.6"/>
<text x="730" y="247.2" font-size="5.8" font-weight="bold" fill="#333" text-anchor="middle">18:00</text>
<line x1="789" y1="234" x2="789" y2="237" stroke="#ddd" stroke-width="0.6"/>
<text x="789" y="247.2" font-size="5.8" font-weight="bold" fill="#333" text-anchor="middle">Jan 26</text>
<line x1="847.7" y1="234" x2="847.7" y2="237" stroke="#ddd" stroke-width="0.6"/>
<text x="847.7" y="247.2" font-size="5.8" font-weight="bold" fill="#333" text-anchor="middle">06:00</text>
<line x1="604" y1="251.6" x2="870" y2="251.6" stroke="#ddd" stroke-width="0.7"/>
<path d="M733.7 254.8 l3.8 3 l3.8 -3" fill="none" stroke="#222" stroke-width="1.2"/>
</svg>
<!-- ===== Disk Status widget ===== -->
<div class="w" style="left:38px;top:201.2px;width:204.4px;height:240px"></div>
<div class="abs" style="left:38px;top:240.9px;width:196px;height:16px;background:#ececec"></div>
<div class="abs" style="left:38px;top:272.9px;width:196px;height:16px;background:#ececec"></div>
<div class="abs" style="left:38px;top:304.9px;width:196px;height:16px;background:#ececec"></div>
<div class="abs" style="left:38px;top:336.9px;width:196px;height:16px;background:#ececec"></div>
<div class="abs" style="left:38px;top:368.9px;width:196px;height:16px;background:#ececec"></div>
<div class="abs" style="left:38px;top:400.9px;width:196px;height:16px;background:#ececec"></div>
<div class="abs" style="left:38px;top:432.9px;width:196px;height:16px;background:#ececec"></div>
<div class="abs" style="left:237.4px;top:241px;width:3.2px;height:199px;background:#c2c2c2;border-radius:1.5px"></div>
<svg width="250" height="441" viewBox="0 68 250 441">
<text x="41" y="278.8" font-size="7" fill="#333">Disk Status</text>
<g fill="#222" stroke="none"><path d="M224.2 272.7 l-3.2 0.2 l3 3 z"/><path d="M217 279.7 l3.2 -0.2 l-3 -3 z"/></g><path d="M221.2 275.6 L223 273.8 M220 276.8 L218.2 278.6" stroke="#222" stroke-width="1.2" fill="none"/>
<path d="M229.5 274.4 l3.8 3.6 l3.8 -3.6" fill="none" stroke="#222" stroke-width="1.2"/>
<text x="127" y="292.3" font-size="7.05" fill="#222">48 items</text>
<text x="43.4" y="303.8" font-size="5.7" font-weight="bold" fill="#333">Name</text>
<text x="159.7" y="303.8" font-size="5.55" font-weight="bold" fill="#333">DiskState</text>
<svg x="190" y="296" width="19.3" height="12" viewBox="190 296 19.3 12" style="overflow:hidden;position:static"><text x="193.4" y="303.8" font-size="5.55" font-weight="bold" fill="#333">RdErrors</text></svg>
<svg x="214" y="296" width="18.6" height="12" viewBox="214 296 18.6 12" style="overflow:hidden;position:static"><text x="217" y="303.8" font-size="5.55" font-weight="bold" fill="#333">WrErrors</text></svg>
<line x1="154.4" y1="296" x2="154.4" y2="509" stroke="#ebebeb" stroke-width="0.6"/>
<line x1="187.9" y1="296" x2="187.9" y2="509" stroke="#ebebeb" stroke-width="0.6"/>
<line x1="211.8" y1="296" x2="211.8" y2="509" stroke="#ebebeb" stroke-width="0.6"/>
<svg x="42" y="311.8" width="110.3" height="12" viewBox="42 311.8 110.3 12" style="overflow:hidden;position:static"><text x="42.9" y="319.8" font-size="5.75" font-weight="bold" fill="#2173b9">Nimble NJ_Array: TVNJ-CS300 - Shelf: 0</text><line x1="42.9" y1="321" x2="152.3" y2="321" stroke="#2173b9" stroke-width="0.6"/></svg>
<text x="159.7" y="319.8" font-size="5.9" font-weight="bold" fill="#333">1</text><text x="193.4" y="319.8" font-size="5.9" font-weight="bold" fill="#333">0</text><text x="217" y="319.8" font-size="5.9" font-weight="bold" fill="#333">0</text>
<svg x="42" y="327.8" width="110.3" height="12" viewBox="42 327.8 110.3 12" style="overflow:hidden;position:static"><text x="42.9" y="335.8" font-size="5.75" font-weight="bold" fill="#2173b9">Nimble NJ_Array: TVNJ-CS300 - Shelf: PSU</text><line x1="42.9" y1="337" x2="152.3" y2="337" stroke="#2173b9" stroke-width="0.6"/></svg>
<text x="159.7" y="335.8" font-size="5.9" font-weight="bold" fill="#333">1</text><text x="193.4" y="335.8" font-size="5.9" font-weight="bold" fill="#333">0</text><text x="217" y="335.8" font-size="5.9" font-weight="bold" fill="#333">0</text>
<svg x="42" y="343.8" width="110.3" height="12" viewBox="42 343.8 110.3 12" style="overflow:hidden;position:static"><text x="42.9" y="351.8" font-size="5.75" font-weight="bold" fill="#2173b9">Nimble NJ_Array: TVNJ-CS300 - Shelf: 0</text><line x1="42.9" y1="353" x2="152.3" y2="353" stroke="#2173b9" stroke-width="0.6"/></svg>
<text x="159.7" y="351.8" font-size="5.9" font-weight="bold" fill="#333">1</text><text x="193.4" y="351.8" font-size="5.9" font-weight="bold" fill="#333">0</text><text x="217" y="351.8" font-size="5.9" font-weight="bold" fill="#333">0</text>
<svg x="42" y="359.8" width="110.3" height="12" viewBox="42 359.8 110.3 12" style="overflow:hidden;position:static"><text x="42.9" y="367.8" font-size="5.75" font-weight="bold" fill="#2173b9">Nimble NJ_Array: TVNJ-CS300 - Shelf: PSU</text><line x1="42.9" y1="369" x2="152.3" y2="369" stroke="#2173b9" stroke-width="0.6"/></svg>
<text x="159.7" y="367.8" font-size="5.9" font-weight="bold" fill="#333">1</text><text x="193.4" y="367.8" font-size="5.9" font-weight="bold" fill="#333">0</text><text x="217" y="367.8" font-size="5.9" font-weight="bold" fill="#333">0</text>
<svg x="42" y="375.8" width="110.3" height="12" viewBox="42 375.8 110.3 12" style="overflow:hidden;position:static"><text x="42.9" y="383.8" font-size="5.75" font-weight="bold" fill="#2173b9">Nimble NJ_Array: TVNJ-CS300 - Shelf: PSU</text><line x1="42.9" y1="385" x2="152.3" y2="385" stroke="#2173b9" stroke-width="0.6"/></svg>
<text x="159.7" y="383.8" font-size="5.9" font-weight="bold" fill="#333">1</text><text x="193.4" y="383.8" font-size="5.9" font-weight="bold" fill="#333">0</text><text x="217" y="383.8" font-size="5.9" font-weight="bold" fill="#333">0</text>
<svg x="42" y="391.8" width="110.3" height="12" viewBox="42 391.8 110.3 12" style="overflow:hidden;position:static"><text x="42.9" y="399.8" font-size="5.75" font-weight="bold" fill="#2173b9">Nimble NJ_Array: TVNJ-CS300 - Shelf: 0</text><line x1="42.9" y1="401" x2="152.3" y2="401" stroke="#2173b9" stroke-width="0.6"/></svg>
<text x="159.7" y="399.8" font-size="5.9" font-weight="bold" fill="#333">1</text><text x="193.4" y="399.8" font-size="5.9" font-weight="bold" fill="#333">0</text><text x="217" y="399.8" font-size="5.9" font-weight="bold" fill="#333">0</text>
<svg x="42" y="407.8" width="110.3" height="12" viewBox="42 407.8 110.3 12" style="overflow:hidden;position:static"><text x="42.9" y="415.8" font-size="5.75" font-weight="bold" fill="#2173b9">Nimble NJ_Array: TVNJ-CS300 - Shelf: PSU</text><line x1="42.9" y1="417" x2="152.3" y2="417" stroke="#2173b9" stroke-width="0.6"/></svg>
<text x="159.7" y="415.8" font-size="5.9" font-weight="bold" fill="#333">1</text><text x="193.4" y="415.8" font-size="5.9" font-weight="bold" fill="#333">0</text><text x="217" y="415.8" font-size="5.9" font-weight="bold" fill="#333">0</text>
<svg x="42" y="423.8" width="110.3" height="12" viewBox="42 423.8 110.3 12" style="overflow:hidden;position:static"><text x="42.9" y="431.8" font-size="5.75" font-weight="bold" fill="#2173b9">Nimble NJ_Array: TVNJ-CS300 - Shelf: 0</text><line x1="42.9" y1="433" x2="152.3" y2="433" stroke="#2173b9" stroke-width="0.6"/></svg>
<text x="159.7" y="431.8" font-size="5.9" font-weight="bold" fill="#333">1</text><text x="193.4" y="431.8" font-size="5.9" font-weight="bold" fill="#333">0</text><text x="217" y="431.8" font-size="5.9" font-weight="bold" fill="#333">0</text>
<svg x="42" y="439.8" width="110.3" height="12" viewBox="42 439.8 110.3 12" style="overflow:hidden;position:static"><text x="42.9" y="447.8" font-size="5.75" font-weight="bold" fill="#2173b9">Nimble NJ_Array: TVNJ-CS300 - Shelf: PSU</text><line x1="42.9" y1="449" x2="152.3" y2="449" stroke="#2173b9" stroke-width="0.6"/></svg>
<text x="159.7" y="447.8" font-size="5.9" font-weight="bold" fill="#333">1</text><text x="193.4" y="447.8" font-size="5.9" font-weight="bold" fill="#333">0</text><text x="217" y="447.8" font-size="5.9" font-weight="bold" fill="#333">0</text>
<svg x="42" y="455.8" width="110.3" height="12" viewBox="42 455.8 110.3 12" style="overflow:hidden;position:static"><text x="42.9" y="463.8" font-size="5.75" font-weight="bold" fill="#2173b9">Nimble NJ_Array: TVNJ-CS300 - Shelf: PSU</text><line x1="42.9" y1="465" x2="152.3" y2="465" stroke="#2173b9" stroke-width="0.6"/></svg>
<text x="159.7" y="463.8" font-size="5.9" font-weight="bold" fill="#333">1</text><text x="193.4" y="463.8" font-size="5.9" font-weight="bold" fill="#333">0</text><text x="217" y="463.8" font-size="5.9" font-weight="bold" fill="#333">0</text>
<svg x="42" y="471.8" width="110.3" height="12" viewBox="42 471.8 110.3 12" style="overflow:hidden;position:static"><text x="42.9" y="479.8" font-size="5.75" font-weight="bold" fill="#2173b9">Nimble NJ_Array: TVNJ-CS300 - Shelf: 0</text><line x1="42.9" y1="481" x2="152.3" y2="481" stroke="#2173b9" stroke-width="0.6"/></svg>
<text x="159.7" y="479.8" font-size="5.9" font-weight="bold" fill="#333">1</text><text x="193.4" y="479.8" font-size="5.9" font-weight="bold" fill="#333">0</text><text x="217" y="479.8" font-size="5.9" font-weight="bold" fill="#333">0</text>
<svg x="42" y="487.8" width="110.3" height="12" viewBox="42 487.8 110.3 12" style="overflow:hidden;position:static"><text x="42.9" y="495.8" font-size="5.75" font-weight="bold" fill="#2173b9">Nimble NJ_Array: TVNJ-CS300 - Shelf: 0</text><line x1="42.9" y1="497" x2="152.3" y2="497" stroke="#2173b9" stroke-width="0.6"/></svg>
<text x="159.7" y="495.8" font-size="5.9" font-weight="bold" fill="#333">1</text><text x="193.4" y="495.8" font-size="5.9" font-weight="bold" fill="#333">0</text><text x="217" y="495.8" font-size="5.9" font-weight="bold" fill="#333">0</text>
<svg x="42" y="503.8" width="110.3" height="12" viewBox="42 503.8 110.3 12" style="overflow:hidden;position:static"><text x="42.9" y="511.8" font-size="5.75" font-weight="bold" fill="#2173b9">Nimble NJ_Array: TVNJ-CS300 - Shelf: PSU</text><line x1="42.9" y1="513" x2="152.3" y2="513" stroke="#2173b9" stroke-width="0.6"/></svg>
<text x="159.7" y="511.8" font-size="5.9" font-weight="bold" fill="#333">1</text><text x="193.4" y="511.8" font-size="5.9" font-weight="bold" fill="#333">0</text><text x="217" y="511.8" font-size="5.9" font-weight="bold" fill="#333">0</text>
</svg>
<!-- ===== Alerts widget ===== -->
<div class="w" style="left:249px;top:201.2px;width:626px;height:82.6px"></div>
<div class="abs" style="left:251.2px;top:216.6px;width:616.6px;height:52.4px;background:#c3d9a6"></div>
<div class="abs" style="left:251.2px;top:216.6px;width:76.2px;height:25.9px;background:#fac732"></div>
<div class="abs" style="left:328.4px;top:216.6px;width:76.2px;height:25.9px;background:#78a549"></div>
<div class="abs" style="left:405.5px;top:216.6px;width:76.2px;height:25.9px;background:#78a549"></div>
<div class="abs" style="left:482.6px;top:216.6px;width:76.2px;height:25.9px;background:#78a549"></div>
<div class="abs" style="left:559.8px;top:216.6px;width:76.2px;height:25.9px;background:#78a549"></div>
<div class="abs" style="left:637px;top:216.6px;width:76.2px;height:25.9px;background:#78a549"></div>
<div class="abs" style="left:714.1px;top:216.6px;width:76.2px;height:25.9px;background:#78a549"></div>
<div class="abs" style="left:791.2px;top:216.6px;width:76.6px;height:25.9px;background:#78a549"></div>
<div class="abs" style="left:251.2px;top:243.5px;width:76.2px;height:25.9px;background:#78a549"></div>
<div class="abs" style="left:328.4px;top:243.5px;width:76.2px;height:25.9px;background:#78a549"></div>
<div class="abs" style="left:405.5px;top:243.5px;width:76.2px;height:25.9px;background:#78a549"></div>
<div class="abs" style="left:482.6px;top:243.5px;width:76.2px;height:25.9px;background:#78a549"></div>
<div class="abs" style="left:559.8px;top:243.5px;width:76.2px;height:25.9px;background:#78a549"></div>
<div class="abs" style="left:637px;top:243.5px;width:76.2px;height:25.9px;background:#78a549"></div>
<div class="abs" style="left:714.1px;top:243.5px;width:76.2px;height:25.9px;background:#78a549"></div>
<div class="abs" style="left:791.2px;top:243.5px;width:76.6px;height:25.9px;background:#78a549"></div>
<svg width="899" height="441" viewBox="0 68 899 441">
<text x="251.2" y="278.9" font-size="7.3" fill="#333">Alerts</text>
<g fill="#222" stroke="none"><path d="M856.8 272.7 l-3.2 0.2 l3 3 z"/><path d="M849.6 279.7 l3.2 -0.2 l-3 -3 z"/></g><path d="M853.8 275.6 L855.6 273.8 M852.6 276.8 L850.8 278.6" stroke="#222" stroke-width="1.2" fill="none"/>
<path d="M861.8 274.4 l3.8 3.6 l3.8 -3.6" fill="none" stroke="#222" stroke-width="1.2"/>
<path d="M261.4 294.3 l4.1 7.4 h-8.2 z" fill="#fdf4cf" stroke="#fdf4cf" stroke-width="1.1" stroke-linejoin="round"/><path d="M261.4 296.9 v3.4 M261.4 300.9 v1" stroke="#fac732" stroke-width="1"/>
<circle cx="272.4" cy="298.7" r="3.8" fill="none" stroke="#fdf3cc" stroke-width="1"/><circle cx="272.4" cy="298.7" r="1.7" fill="#fdf3cc"/>
<text x="281" y="301.1" font-size="6.6" fill="#fdf3cc" font-weight="bold">Volume Us...</text>
<path d="M335.2 299 l2.2 2.3 l4.1 -4.8" fill="none" stroke="#f2f8e6" stroke-width="1.4"/>
<circle cx="349.6" cy="298.7" r="3.8" fill="none" stroke="#f2f8e6" stroke-width="1"/><circle cx="349.6" cy="298.7" r="1.7" fill="#f2f8e6"/>
<text x="358" y="301.1" font-size="6.6" fill="#f6fbea" font-weight="bold">CPU Load</text>
<path d="M412.3 299 l2.2 2.3 l4.1 -4.8" fill="none" stroke="#f2f8e6" stroke-width="1.4"/>
<circle cx="426.7" cy="298.7" r="3.8" fill="none" stroke="#f2f8e6" stroke-width="1"/><circle cx="426.7" cy="298.7" r="1.7" fill="#f2f8e6"/>
<text x="435.1" y="301.1" font-size="6.6" fill="#f6fbea" font-weight="bold">Global Stats</text>
<path d="M489.4 299 l2.2 2.3 l4.1 -4.8" fill="none" stroke="#f2f8e6" stroke-width="1.4"/>
<circle cx="503.8" cy="298.7" r="3.8" fill="none" stroke="#f2f8e6" stroke-width="1"/><circle cx="503.8" cy="298.7" r="1.7" fill="#f2f8e6"/>
<text x="512.2" y="301.1" font-size="6.6" fill="#f6fbea" font-weight="bold">Host Status</text>
<path d="M566.6 299 l2.2 2.3 l4.1 -4.8" fill="none" stroke="#f2f8e6" stroke-width="1.4"/>
<circle cx="581" cy="298.7" r="3.8" fill="none" stroke="#f2f8e6" stroke-width="1"/><circle cx="581" cy="298.7" r="1.7" fill="#f2f8e6"/>
<text x="589.4" y="301.1" font-size="6.6" fill="#f6fbea" font-weight="bold">HTTPS</text>
<path d="M643.8 299 l2.2 2.3 l4.1 -4.8" fill="none" stroke="#f2f8e6" stroke-width="1.4"/>
<circle cx="658.2" cy="298.7" r="3.8" fill="none" stroke="#f2f8e6" stroke-width="1"/><circle cx="658.2" cy="298.7" r="1.7" fill="#f2f8e6"/>
<text x="666.6" y="301.1" font-size="6.6" fill="#f6fbea" font-weight="bold">Ping</text>
<path d="M720.9 299 l2.2 2.3 l4.1 -4.8" fill="none" stroke="#f2f8e6" stroke-width="1.4"/>
<circle cx="735.3" cy="298.7" r="3.8" fill="none" stroke="#f2f8e6" stroke-width="1"/><circle cx="735.3" cy="298.7" r="1.7" fill="#f2f8e6"/>
<text x="743.7" y="301.1" font-size="6.6" fill="#f6fbea" font-weight="bold">SSD Disks</text>
<path d="M798 299 l2.2 2.3 l4.1 -4.8" fill="none" stroke="#f2f8e6" stroke-width="1.4"/>
<circle cx="812.5" cy="298.7" r="3.8" fill="none" stroke="#f2f8e6" stroke-width="1"/><circle cx="812.5" cy="298.7" r="1.7" fill="#f2f8e6"/>
<text x="820.9" y="301.1" font-size="6.6" fill="#f6fbea" font-weight="bold">Uptime-</text>
<path d="M258 325.8 l2.2 2.3 l4.1 -4.8" fill="none" stroke="#f2f8e6" stroke-width="1.4"/>
<circle cx="272.4" cy="325.5" r="3.8" fill="none" stroke="#f2f8e6" stroke-width="1"/><circle cx="272.4" cy="325.5" r="1.7" fill="#f2f8e6"/>
<text x="280.8" y="327.9" font-size="6.6" fill="#f6fbea" font-weight="bold">Array Info</text>
<path d="M335.2 325.8 l2.2 2.3 l4.1 -4.8" fill="none" stroke="#f2f8e6" stroke-width="1.4"/>
<circle cx="349.6" cy="325.5" r="3.8" fill="none" stroke="#f2f8e6" stroke-width="1"/><circle cx="349.6" cy="325.5" r="1.7" fill="#f2f8e6"/>
<text x="358" y="327.9" font-size="6.6" fill="#f6fbea" font-weight="bold">DNS</text>
<path d="M412.3 325.8 l2.2 2.3 l4.1 -4.8" fill="none" stroke="#f2f8e6" stroke-width="1.4"/>
<circle cx="426.7" cy="325.5" r="3.8" fill="none" stroke="#f2f8e6" stroke-width="1"/><circle cx="426.7" cy="325.5" r="1.7" fill="#f2f8e6"/>
<text x="435.1" y="327.9" font-size="6.6" fill="#f6fbea" font-weight="bold">HDD Disks</text>
<path d="M489.4 325.8 l2.2 2.3 l4.1 -4.8" fill="none" stroke="#f2f8e6" stroke-width="1.4"/>
<circle cx="503.8" cy="325.5" r="3.8" fill="none" stroke="#f2f8e6" stroke-width="1"/><circle cx="503.8" cy="325.5" r="1.7" fill="#f2f8e6"/>
<text x="512.2" y="327.9" font-size="6.6" fill="#f6fbea" font-weight="bold">HTTP</text>
<path d="M566.6 325.8 l2.2 2.3 l4.1 -4.8" fill="none" stroke="#f2f8e6" stroke-width="1.4"/>
<circle cx="581" cy="325.5" r="3.8" fill="none" stroke="#f2f8e6" stroke-width="1"/><circle cx="581" cy="325.5" r="1.7" fill="#f2f8e6"/>
<text x="589.4" y="327.9" font-size="6.6" fill="#f6fbea" font-weight="bold">Interfaces-</text>
<path d="M643.8 325.8 l2.2 2.3 l4.1 -4.8" fill="none" stroke="#f2f8e6" stroke-width="1.4"/>
<circle cx="658.2" cy="325.5" r="3.8" fill="none" stroke="#f2f8e6" stroke-width="1"/><circle cx="658.2" cy="325.5" r="1.7" fill="#f2f8e6"/>
<text x="666.6" y="327.9" font-size="6.6" fill="#f6fbea" font-weight="bold">Port-</text>
<path d="M720.9 325.8 l2.2 2.3 l4.1 -4.8" fill="none" stroke="#f2f8e6" stroke-width="1.4"/>
<circle cx="735.3" cy="325.5" r="3.8" fill="none" stroke="#f2f8e6" stroke-width="1"/><circle cx="735.3" cy="325.5" r="1.7" fill="#f2f8e6"/>
<text x="743.7" y="327.9" font-size="6.6" fill="#f6fbea" font-weight="bold">SSL Certific...</text>
<path d="M798 325.8 l2.2 2.3 l4.1 -4.8" fill="none" stroke="#f2f8e6" stroke-width="1.4"/>
<circle cx="812.5" cy="325.5" r="3.8" fill="none" stroke="#f2f8e6" stroke-width="1"/><circle cx="812.5" cy="325.5" r="1.7" fill="#f2f8e6"/>
<text x="820.9" y="327.9" font-size="6.6" fill="#f6fbea" font-weight="bold">Volume Lat...</text>
</svg>
<!-- ===== Capacity / Array Usage / Snapshot Usage ===== -->
<div class="w" style="left:248.8px;top:289.6px;width:204.6px;height:126.2px"></div>
<div class="w" style="left:458.8px;top:289.6px;width:205.2px;height:126.2px"></div>
<div class="w" style="left:669.8px;top:289.6px;width:205.2px;height:126.2px"></div>
<svg width="899" height="441" viewBox="0 68 899 441">
<text x="251.4" y="368" font-size="7.1" fill="#333">Capacity</text>
<g fill="#222" stroke="none"><path d="M435.3 361.3 l-3.2 0.2 l3 3 z"/><path d="M428.1 368.3 l3.2 -0.2 l-3 -3 z"/></g><path d="M432.3 364.2 L434.1 362.4 M431.1 365.4 L429.3 367.2" stroke="#222" stroke-width="1.2" fill="none"/>
<path d="M440.1 363 l3.8 3.6 l3.8 -3.6" fill="none" stroke="#222" stroke-width="1.2"/>
<circle cx="354.0" cy="428.2" r="41.4" fill="#0b7bf1"/>
<path d="M354.0 428.2 L312.6 428.2 A41.4 41.4 0 0 1 354.0 386.8 Z" fill="#7cab42" stroke="#e8f0f8" stroke-width="0.7"/>
<text x="256" y="388.3" font-size="6" font-weight="bold" fill="#444">Remain: 25.30%</text>
<path d="M307.4 384.4 Q315 389 323.6 397.8" fill="none" stroke="#aaa" stroke-width="0.6"/>
<text x="405" y="474.9" font-size="6" font-weight="bold" fill="#444">Used: 74.70%</text>
<path d="M384.3 457.6 Q391 467 400.8 471.8" fill="none" stroke="#aaa" stroke-width="0.6"/>
<text x="461.9" y="368" font-size="7.1" fill="#333">Array Usage</text>
<g fill="#222" stroke="none"><path d="M646.3 361.3 l-3.2 0.2 l3 3 z"/><path d="M639.1 368.3 l3.2 -0.2 l-3 -3 z"/></g><path d="M643.3 364.2 L645.1 362.4 M642.1 365.4 L640.3 367.2" stroke="#222" stroke-width="1.2" fill="none"/>
<path d="M651.1 363 l3.8 3.6 l3.8 -3.6" fill="none" stroke="#222" stroke-width="1.2"/>
<line x1="499.6" y1="379.3" x2="659.6" y2="379.3" stroke="#dcdcdc" stroke-width="0.7"/>
<text x="492" y="381.4" font-size="5.8" font-weight="bold" fill="#444" text-anchor="end">256T</text>
<line x1="499.6" y1="403.6" x2="659.6" y2="403.6" stroke="#dcdcdc" stroke-width="0.7"/>
<text x="492" y="405.7" font-size="5.8" font-weight="bold" fill="#444" text-anchor="end">128T</text>
<line x1="499.6" y1="428" x2="659.6" y2="428" stroke="#dcdcdc" stroke-width="0.7"/>
<text x="492" y="430.1" font-size="5.8" font-weight="bold" fill="#444" text-anchor="end">0</text>
<text transform="translate(472 403.5) rotate(-90)" font-size="5.4" font-weight="bold" fill="#444" text-anchor="middle">bytes</text>
<line x1="499.6" y1="390.2" x2="659.6" y2="390.2" stroke="#b87070" stroke-width="0.8"/>
<rect x="499.6" y="401.3" width="160" height="8.2" fill="#6fadf0"/>
<rect x="499.6" y="409.4" width="160" height="18.4" fill="#d9435c"/>
<line x1="499.6" y1="409.5" x2="659.6" y2="409.5" stroke="#b8324a" stroke-width="0.7"/>
<line x1="550.5" y1="428" x2="550.5" y2="433" stroke="#ddd" stroke-width="0.6"/>
<text x="550.5" y="441.3" font-size="5.8" font-weight="bold" fill="#444" text-anchor="middle">16:00</text>
<line x1="604" y1="428" x2="604" y2="433" stroke="#ddd" stroke-width="0.6"/>
<text x="604" y="441.3" font-size="5.8" font-weight="bold" fill="#444" text-anchor="middle">Jan 26</text>
<line x1="651" y1="428" x2="651" y2="433" stroke="#ddd" stroke-width="0.6"/>
<text x="651" y="441.3" font-size="5.8" font-weight="bold" fill="#444" text-anchor="middle">08:00</text>
<line x1="464" y1="445.6" x2="660" y2="445.6" stroke="#ddd" stroke-width="0.7"/>
<path d="M558.2 452.1 l3.8 -3 l3.8 3" fill="none" stroke="#222" stroke-width="1.2"/>
<circle cx="633.2" cy="450.4" r="2.3" fill="none" stroke="#333" stroke-width="0.9"/><path d="M634.9 452.1 l2.3 2.3" stroke="#333" stroke-width="1.1"/>
<path d="M647.4 450.1 l3.6 3 l3.6 -3" fill="none" stroke="#222" stroke-width="1.1"/>
<circle cx="469.5" cy="459" r="3" fill="#d2192c"/><text x="474.9" y="461" font-size="5.8" fill="#555">Total Capacity</text>
<circle cx="469.5" cy="468" r="3" fill="#62a4ee"/><text x="474.9" y="470" font-size="5.8" fill="#555">Used Space if there was no compression</text>
<circle cx="469.5" cy="476.7" r="3" fill="#d2192c"/><text x="474.9" y="478.7" font-size="5.8" fill="#555">Used Space</text>
<text x="672.6" y="368" font-size="7.1" fill="#333">Snapshot Usage</text>
<g fill="#222" stroke="none"><path d="M856.6 361.3 l-3.2 0.2 l3 3 z"/><path d="M849.4 368.3 l3.2 -0.2 l-3 -3 z"/></g><path d="M853.6 364.2 L855.4 362.4 M852.4 365.4 L850.6 367.2" stroke="#222" stroke-width="1.2" fill="none"/>
<path d="M861.9 363 l3.8 3.6 l3.8 -3.6" fill="none" stroke="#222" stroke-width="1.2"/>
<line x1="707" y1="379.3" x2="870" y2="379.3" stroke="#dcdcdc" stroke-width="0.7"/>
<text x="698.6" y="381.4" font-size="5.8" font-weight="bold" fill="#444" text-anchor="end">64T</text>
<line x1="707" y1="417.8" x2="870" y2="417.8" stroke="#dcdcdc" stroke-width="0.7"/>
<text x="698.6" y="419.9" font-size="5.8" font-weight="bold" fill="#444" text-anchor="end">32T</text>
<line x1="707" y1="456.2" x2="870" y2="456.2" stroke="#dcdcdc" stroke-width="0.7"/>
<text x="698.6" y="458.3" font-size="5.8" font-weight="bold" fill="#444" text-anchor="end">0</text>
<text transform="translate(682.6 417) rotate(-90)" font-size="5.4" font-weight="bold" fill="#444" text-anchor="middle">bytes</text>
<path d="M707 455.8 V390.9 L760 390.7 L818 390.2 L832 391.1 L870 390.9 V455.8 Z" fill="#3e95f7" stroke="#2f84ea" stroke-width="0.6"/>
<line x1="707" y1="417.8" x2="870" y2="417.8" stroke="#3a8cec" stroke-width="0.5"/>
<line x1="758.7" y1="456" x2="758.7" y2="461" stroke="#ddd" stroke-width="0.6"/>
<text x="758.7" y="469.3" font-size="5.8" font-weight="bold" fill="#444" text-anchor="middle">16:00</text>
<line x1="813.2" y1="456" x2="813.2" y2="461" stroke="#ddd" stroke-width="0.6"/>
<text x="813.2" y="469.3" font-size="5.8" font-weight="bold" fill="#444" text-anchor="middle">Jan 26</text>
<line x1="861.6" y1="456" x2="861.6" y2="461" stroke="#ddd" stroke-width="0.6"/>
<text x="861.6" y="469.3" font-size="5.8" font-weight="bold" fill="#444" text-anchor="middle">08:00</text>
<line x1="675" y1="473.5" x2="870" y2="473.5" stroke="#ddd" stroke-width="0.7"/>
<path d="M768.7 476.1 l3.8 3 l3.8 -3" fill="none" stroke="#222" stroke-width="1.2"/>
</svg>
<!-- page scrollbar track + corner -->
</div><!-- /app -->
<div class="abs" style="left:897.6px;top:506.6px;width:2.4px;height:2.4px;background:#222;border-top-left-radius:2.4px"></div>
</body>
</html>
